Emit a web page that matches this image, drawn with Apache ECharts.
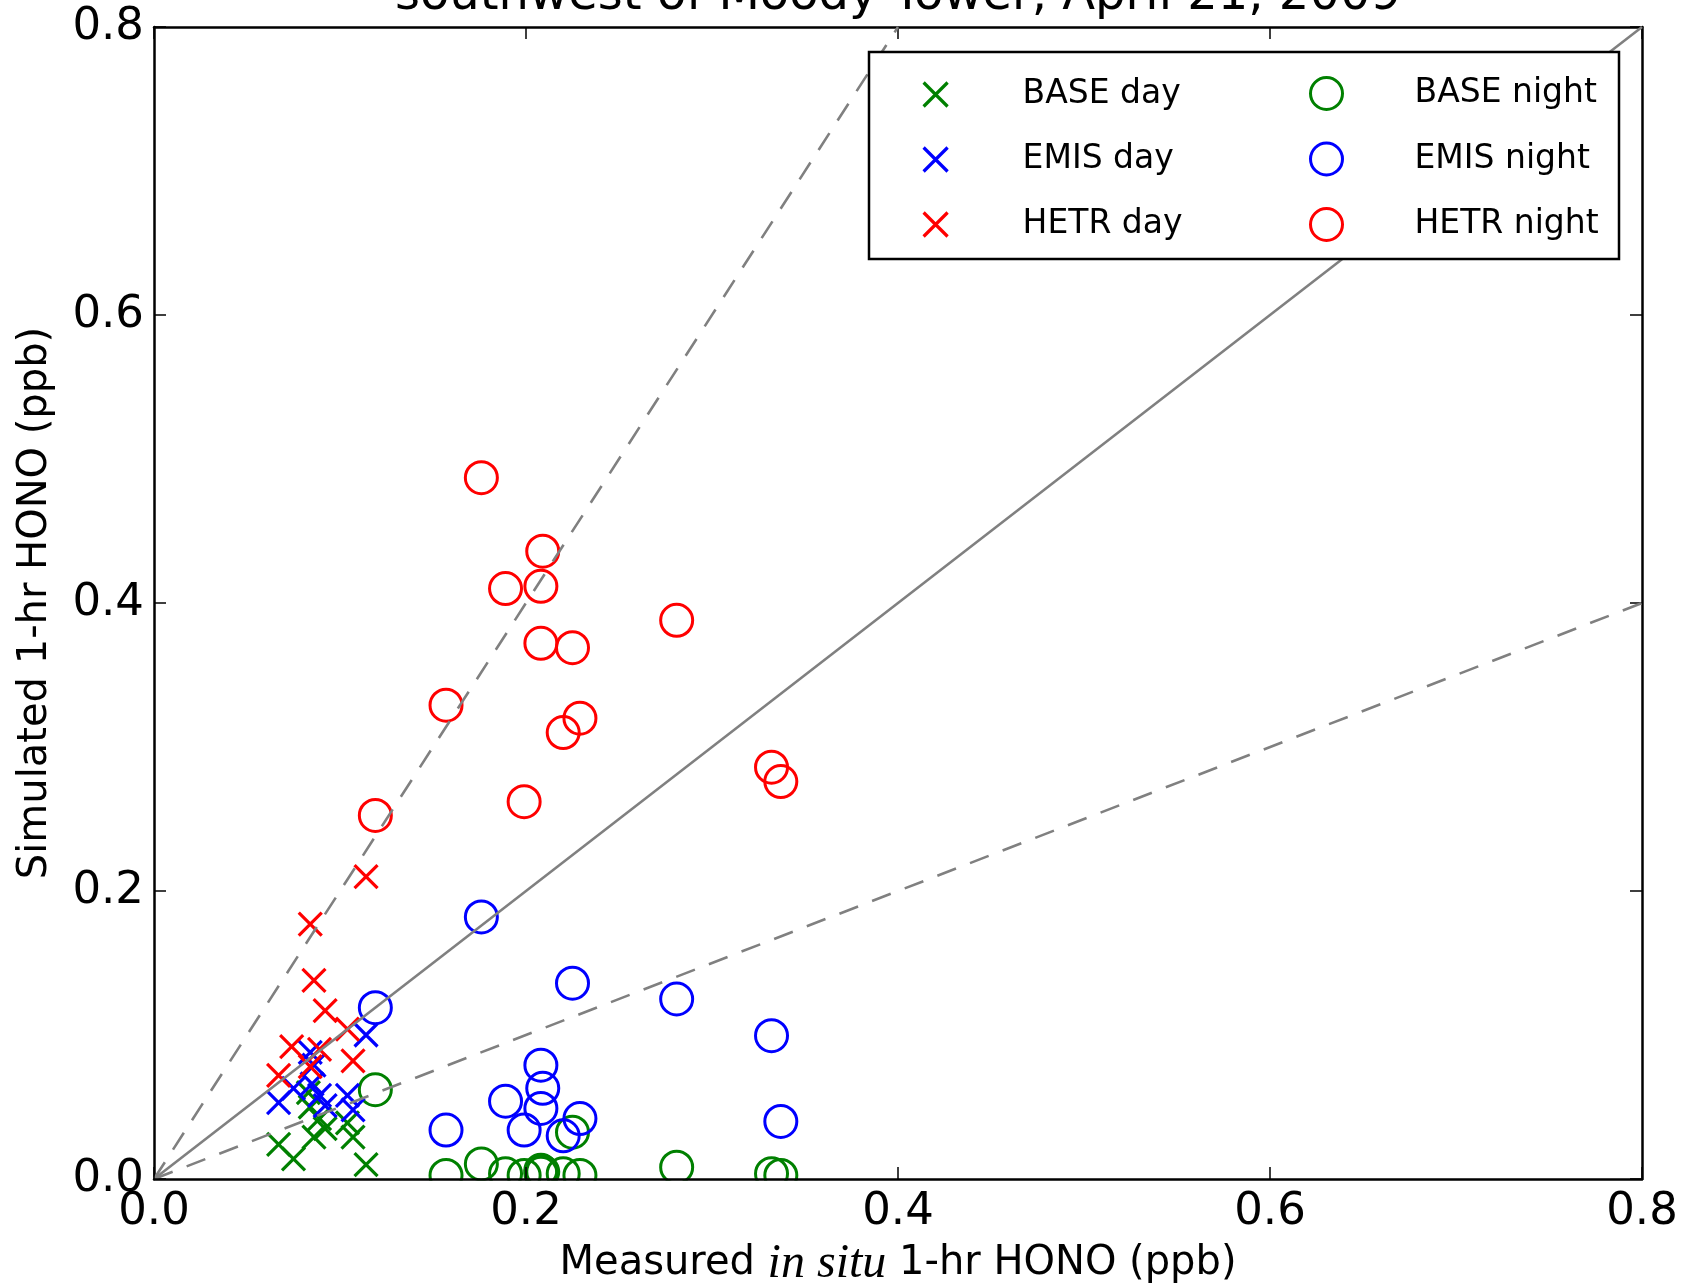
<!DOCTYPE html>
<html>
<head>
<meta charset="utf-8">
<title>HONO southwest of Moody Tower</title>
<script src="https://cdn.jsdelivr.net/npm/echarts@6.0.0/dist/echarts.min.js"></script>
<style>
  html, body { margin: 0; padding: 0; background: #fff; }
  #chart { width: 1686px; height: 1286px; }
</style>
</head>
<body>
<div id="chart"></div>
<script>
// [measured, simulated] 1-hr HONO (ppb)
const baseDay = [
  [0.067, 0.024], [0.075, 0.014], [0.083, 0.060], [0.086, 0.029], [0.089, 0.042],
  [0.092, 0.035], [0.104, 0.039], [0.107, 0.029], [0.114, 0.010], [0.084, 0.050]
];
const emisDay = [
  [0.067, 0.053], [0.075, 0.063], [0.084, 0.088], [0.086, 0.079], [0.089, 0.058],
  [0.092, 0.051], [0.104, 0.058], [0.107, 0.048], [0.114, 0.100], [0.085, 0.066]
];
const hetrDay = [
  [0.067, 0.072], [0.074, 0.092], [0.084, 0.078], [0.084, 0.177], [0.086, 0.138],
  [0.089, 0.090], [0.092, 0.117], [0.104, 0.104], [0.107, 0.082], [0.114, 0.210]
];
const baseNight = [
  [0.119, 0.062], [0.157, 0.0025], [0.176, 0.0105], [0.189, 0.0037], [0.199, 0.0025],
  [0.208, 0.004], [0.208, 0.006], [0.209, 0.005], [0.220, 0.0037], [0.225, 0.0325],
  [0.229, 0.0025], [0.281, 0.0082], [0.332, 0.0037], [0.337, 0.0025]
];
const emisNight = [
  [0.119, 0.119], [0.157, 0.034], [0.176, 0.182], [0.189, 0.054], [0.199, 0.034],
  [0.208, 0.079], [0.208, 0.049], [0.209, 0.063], [0.220, 0.030], [0.225, 0.136],
  [0.229, 0.042], [0.281, 0.125], [0.332, 0.0995], [0.337, 0.040]
];
const hetrNight = [
  [0.119, 0.2525], [0.157, 0.329], [0.176, 0.487], [0.189, 0.410], [0.199, 0.262],
  [0.208, 0.4116], [0.208, 0.372], [0.209, 0.436], [0.220, 0.310], [0.225, 0.369],
  [0.229, 0.320], [0.281, 0.388], [0.332, 0.286], [0.337, 0.276]
];

// 1:1 line and the factor-of-2 lines
const refSlopes = [1, 2, 0.5];
const axisMin = 0, axisMax = 0.8, axisStep = 0.2;

const dayNames = ['BASE day', 'EMIS day', 'HETR day'];
const nightNames = ['BASE night', 'EMIS night', 'HETR night'];
const colors = ['#008000', '#0000ff', '#ff0000'];

const FONT = 'DejaVu Sans';
const xPath = 'path://M0,0L10,10M10,0L0,10';

const scatter = (name, data, color, night) => ({
  name: name,
  type: 'scatter',
  data: data,
  symbol: night ? 'circle' : xPath,
  symbolSize: night ? 32 : 23,
  symbolKeepAspect: true,
  itemStyle: night
    ? { color: 'transparent', borderColor: color, borderWidth: 3, opacity: 1 }
    : { color: color, borderColor: color, borderWidth: 3.2, opacity: 1 },
  emphasis: { disabled: true },
  z: 2
});

const refLine = (slope) => {
  const xEnd = Math.min(axisMax, axisMax / slope);
  return {
    name: 'ref ' + slope,
    type: 'line',
    data: [[0, 0], [xEnd, slope * xEnd]],
    symbol: 'none',
    silent: true,
    lineStyle: { color: '#808080', width: 2.6, type: slope === 1 ? 'solid' : [20, 15] },
    z: 3
  };
};

const fmt = v => v.toFixed(1);

const valueAxis = (extra) => Object.assign({
  type: 'value',
  min: axisMin,
  max: axisMax,
  interval: axisStep,
  splitLine: { show: false },
  axisLine: { show: true, onZero: false, lineStyle: { color: '#000', width: 2.5 } },
  axisTick: { show: true, inside: true, length: 12, lineStyle: { color: '#000', width: 1.5 } }
}, extra);

const chart = echarts.init(document.getElementById('chart'));
chart.setOption({
  backgroundColor: '#fff',
  animation: false,
  textStyle: { fontFamily: FONT },
  title: {
    text: 'southwest of Moody Tower, April 21, 2009',
    left: 898,
    textAlign: 'center',
    top: -27,
    padding: 0,
    textStyle: { fontFamily: FONT, fontSize: 48, fontWeight: 'normal', color: '#000' }
  },
  grid: { left: 154, right: 44, top: 27, bottom: 107, outerBoundsMode: 'none' },
  xAxis: [
    valueAxis({
      position: 'bottom',
      z: 5,
      axisLabel: { formatter: fmt, fontSize: 45, color: '#000', margin: 11, fontFamily: FONT },
      name: '{a|Measured }{i|in situ}{a| 1-hr HONO (ppb)}',
      nameLocation: 'middle',
      nameGap: 61,
      nameTextStyle: {
        rich: {
          a: { fontFamily: FONT, fontSize: 40, color: '#000' },
          i: { fontFamily: 'Liberation Serif', fontStyle: 'italic', fontSize: 48, color: '#000' }
        }
      }
    }),
    valueAxis({ position: 'top', axisLabel: { show: false } })
  ],
  yAxis: [
    valueAxis({
      position: 'left',
      axisLabel: { formatter: fmt, fontSize: 45, color: '#000', margin: 10, fontFamily: FONT },
      name: 'Simulated 1-hr HONO (ppb)',
      nameLocation: 'middle',
      nameGap: 98,
      nameTextStyle: { fontFamily: FONT, fontSize: 40, color: '#000' }
    }),
    valueAxis({ position: 'right', axisLabel: { show: false } })
  ],
  legend: [
    {
      data: dayNames,
      orient: 'vertical',
      left: 922, top: 78, padding: 0,
      itemWidth: 164, itemHeight: 24, itemGap: 32,
      selectedMode: false, z: 11,
      itemStyle: { borderWidth: 3.2, opacity: 1 },
      textStyle: { fontFamily: FONT, fontSize: 33, color: '#000' }
    },
    {
      data: nightNames,
      orient: 'vertical',
      left: 1309, top: 76, padding: 0,
      itemWidth: 166, itemHeight: 32, itemGap: 30.5,
      selectedMode: false, z: 11,
      itemStyle: { borderWidth: 3, opacity: 1 },
      textStyle: { fontFamily: FONT, fontSize: 33, color: '#000' }
    }
  ],
  graphic: [
    // legend frame
    { type: 'rect', z: 10, shape: { x: 869, y: 52, width: 750, height: 207 },
      style: { fill: '#fff', stroke: '#000', lineWidth: 2.5 } },
    // hide the parts of markers that fall below the x axis
    { type: 'rect', z: 4, silent: true, shape: { x: 155, y: 1180.5, width: 1486, height: 22 },
      style: { fill: '#fff' } }
  ],
  series: [
    scatter(dayNames[0], baseDay, colors[0], false),
    scatter(nightNames[0], baseNight, colors[0], true),
    scatter(dayNames[1], emisDay, colors[1], false),
    scatter(nightNames[1], emisNight, colors[1], true),
    scatter(dayNames[2], hetrDay, colors[2], false),
    scatter(nightNames[2], hetrNight, colors[2], true),
    ...refSlopes.map(refLine)
  ]
});
</script>
</body>
</html>
